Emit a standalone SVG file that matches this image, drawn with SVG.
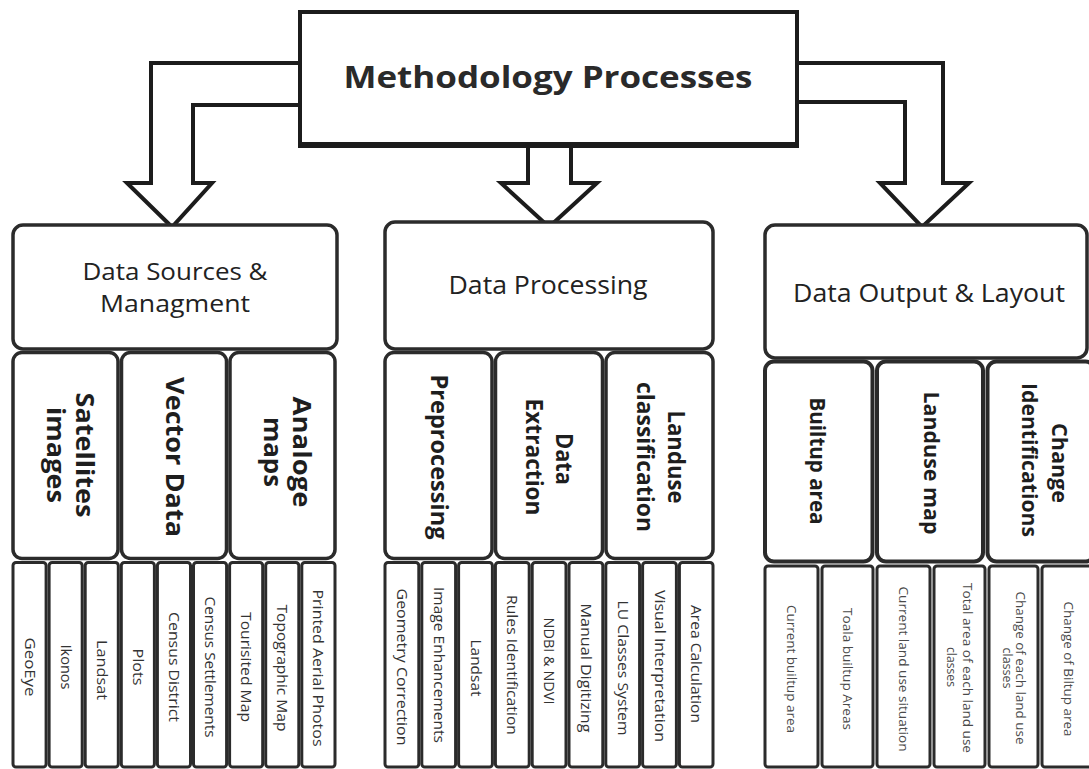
<svg xmlns="http://www.w3.org/2000/svg" width="1089" height="769" viewBox="0 0 1089 769">
  <style>
    .bg{fill:#ffffff}
    .top{fill:#ffffff;stroke:#1c1c1c;stroke-width:4}
    .arrow{fill:#ffffff;stroke:#1c1c1c;stroke-width:4;stroke-linejoin:miter}
    .box{fill:#ffffff;stroke:#2b2b2b;stroke-width:3.5}
    .sub{fill:#ffffff;stroke:#2b2b2b;stroke-width:3.5}
    .sub3{fill:#ffffff;stroke:#2b2b2b;stroke-width:4}
    .leaf{fill:#ffffff;stroke:#2b2b2b;stroke-width:3}
    text{font-family:"Open Sans","Noto Sans","Liberation Sans",sans-serif;text-anchor:middle}
    .title{font-weight:700;font-size:30px;fill:#2a2a2a}
    .head{font-size:26px;fill:#222222}
    .head2{font-size:23px;fill:#222222}
    .cat1{font-weight:700;font-size:25px;fill:#1e1e1e}
    .cat2{font-weight:700;font-size:23.5px;fill:#1e1e1e}
    .cat3{font-weight:700;font-size:21px;fill:#1e1e1e}
    .item{font-size:14px;fill:#333333}
    .item3{font-size:12.5px;fill:#4a4a4a}
  </style>

  <rect class="bg" x="0" y="0" width="1089" height="769"/>

  <!-- block arrows from the top process box to the three stages -->
  <g id="connectors">
    <path class="arrow" d="M300 63 H151 V183 H127 L172 227 L212 183 H193 V105 H300"/>
    <path class="arrow" d="M528 143 V183 H501 L549 227 L597 183 H571 V143"/>
    <path class="arrow" d="M797 63 H943 V183 H969 L922 227 L880 183 H905 V102 H797"/>
  </g>

  <!-- top process box -->
  <g id="methodology">
    <rect class="top" x="300" y="12" width="497" height="133"/>
    <line x1="298" y1="145" x2="799" y2="145" stroke="#1c1c1c" stroke-width="6"/>
    <text class="title" x="548" y="88" textLength="409" lengthAdjust="spacingAndGlyphs">Methodology Processes</text>
  </g>

  <!-- ===== Stage 1: data sources ===== -->
  <g id="data-sources">
    <rect class="box" x="13" y="225" width="324" height="124" rx="10"/>
    <text class="head2" x="175" y="280" textLength="185" lengthAdjust="spacingAndGlyphs">Data Sources &amp;</text>
    <text class="head2" x="175" y="312" textLength="150" lengthAdjust="spacingAndGlyphs">Managment</text>
  </g>
  <g id="satellites-images">
    <rect class="sub" x="13" y="352.5" width="105" height="206" rx="9"/>
    <text class="cat1" transform="translate(65.5 455) rotate(90)" y="-10" textLength="125" lengthAdjust="spacingAndGlyphs">Satellites</text>
    <text class="cat1" transform="translate(65.5 455) rotate(90)" y="19" textLength="96" lengthAdjust="spacingAndGlyphs">images</text>
  </g>
  <g id="vector-data">
    <rect class="sub" x="121.5" y="352.5" width="105" height="206" rx="9"/>
    <text class="cat1" transform="translate(174 457) rotate(90)" y="8" textLength="160" lengthAdjust="spacingAndGlyphs">Vector Data</text>
  </g>
  <g id="analoge-maps">
    <rect class="sub" x="230" y="352.5" width="105" height="206" rx="9"/>
    <text class="cat1" transform="translate(282.5 452) rotate(90)" y="-10" textLength="111" lengthAdjust="spacingAndGlyphs">Analoge</text>
    <text class="cat1" transform="translate(282.5 452) rotate(90)" y="19" textLength="70" lengthAdjust="spacingAndGlyphs">maps</text>
  </g>

  <g id="geoeye"><rect class="leaf" x="13" y="562.5" width="33.1" height="204.5" rx="3"/>
    <text class="item" transform="translate(29.6 667) rotate(90)" y="5" textLength="59" lengthAdjust="spacingAndGlyphs">GeoEye</text></g>
  <g id="ikonos"><rect class="leaf" x="49.1" y="562.5" width="33.1" height="204.5" rx="3"/>
    <text class="item" transform="translate(65.7 667) rotate(90)" y="5" textLength="45" lengthAdjust="spacingAndGlyphs">Ikonos</text></g>
  <g id="landsat-1"><rect class="leaf" x="85.2" y="562.5" width="33.1" height="204.5" rx="3"/>
    <text class="item" transform="translate(101.8 670) rotate(90)" y="5" textLength="60" lengthAdjust="spacingAndGlyphs">Landsat</text></g>
  <g id="plots"><rect class="leaf" x="121.3" y="562.5" width="33.1" height="204.5" rx="3"/>
    <text class="item" transform="translate(137.9 667) rotate(90)" y="5" textLength="37" lengthAdjust="spacingAndGlyphs">Plots</text></g>
  <g id="census-district"><rect class="leaf" x="157.4" y="562.5" width="33.1" height="204.5" rx="3"/>
    <text class="item" transform="translate(174 667) rotate(90)" y="5" textLength="110" lengthAdjust="spacingAndGlyphs">Census District</text></g>
  <g id="census-settlements"><rect class="leaf" x="193.5" y="562.5" width="33.1" height="204.5" rx="3"/>
    <text class="item" transform="translate(210.1 667) rotate(90)" y="5" textLength="141" lengthAdjust="spacingAndGlyphs">Census Settlements</text></g>
  <g id="tourist-map"><rect class="leaf" x="229.6" y="562.5" width="33.1" height="204.5" rx="3"/>
    <text class="item" transform="translate(246.2 667) rotate(90)" y="5" textLength="110" lengthAdjust="spacingAndGlyphs">Tourisited Map</text></g>
  <g id="topographic-map"><rect class="leaf" x="265.7" y="562.5" width="33.1" height="204.5" rx="3"/>
    <text class="item" transform="translate(282.3 668) rotate(90)" y="5" textLength="127" lengthAdjust="spacingAndGlyphs">Topographic Map</text></g>
  <g id="aerial-photos"><rect class="leaf" x="301.8" y="562.5" width="33.2" height="204.5" rx="3"/>
    <text class="item" transform="translate(318.4 668) rotate(90)" y="5" textLength="157" lengthAdjust="spacingAndGlyphs">Printed Aerial Photos</text></g>

  <!-- ===== Stage 2: data processing ===== -->
  <g id="data-processing">
    <rect class="box" x="385" y="222" width="328" height="127" rx="10"/>
    <text class="head" x="548" y="294" textLength="199" lengthAdjust="spacingAndGlyphs">Data Processing</text>
  </g>
  <g id="preprocessing">
    <rect class="sub" x="385" y="352.5" width="107" height="206" rx="9"/>
    <text class="cat2" transform="translate(438.5 457) rotate(90)" y="8" textLength="165" lengthAdjust="spacingAndGlyphs">Preprocessing</text>
  </g>
  <g id="data-extraction">
    <rect class="sub" x="495.5" y="352.5" width="107" height="206" rx="9"/>
    <text class="cat2" transform="translate(549 459) rotate(90)" y="-7" textLength="52" lengthAdjust="spacingAndGlyphs">Data</text>
    <text class="cat2" transform="translate(549 457) rotate(90)" y="23" textLength="117" lengthAdjust="spacingAndGlyphs">Extraction</text>
  </g>
  <g id="landuse-classification">
    <rect class="sub" x="606" y="352.5" width="107" height="206" rx="9"/>
    <text class="cat2" transform="translate(659.5 457) rotate(90)" y="-8" textLength="93" lengthAdjust="spacingAndGlyphs">Landuse</text>
    <text class="cat2" transform="translate(659.5 457) rotate(90)" y="23" textLength="150" lengthAdjust="spacingAndGlyphs">classification</text>
  </g>

  <g id="geometry-correction"><rect class="leaf" x="385" y="562.5" width="33.8" height="204.5" rx="3"/>
    <text class="item" transform="translate(401.9 667) rotate(90)" y="5" textLength="157" lengthAdjust="spacingAndGlyphs">Geometry Correction</text></g>
  <g id="image-enhancements"><rect class="leaf" x="421.8" y="562.5" width="33.8" height="204.5" rx="3"/>
    <text class="item" transform="translate(438.7 665) rotate(90)" y="5" textLength="156" lengthAdjust="spacingAndGlyphs">Image Enhancements</text></g>
  <g id="landsat-2"><rect class="leaf" x="458.6" y="562.5" width="33.8" height="204.5" rx="3"/>
    <text class="item" transform="translate(475.5 668) rotate(90)" y="5" textLength="57" lengthAdjust="spacingAndGlyphs">Landsat</text></g>
  <g id="rules-identification"><rect class="leaf" x="495.4" y="562.5" width="33.8" height="204.5" rx="3"/>
    <text class="item" transform="translate(512.3 665) rotate(90)" y="5" textLength="140" lengthAdjust="spacingAndGlyphs">Rules Identification</text></g>
  <g id="ndbi-ndvi"><rect class="leaf" x="532.2" y="562.5" width="33.8" height="204.5" rx="3"/>
    <text class="item" transform="translate(549.1 661) rotate(90)" y="5" textLength="87" lengthAdjust="spacingAndGlyphs">NDBI &amp; NDVI</text></g>
  <g id="manual-digitizing"><rect class="leaf" x="569" y="562.5" width="33.8" height="204.5" rx="3"/>
    <text class="item" transform="translate(585.9 668) rotate(90)" y="5" textLength="129" lengthAdjust="spacingAndGlyphs">Manual Digitizing</text></g>
  <g id="lu-classes"><rect class="leaf" x="605.8" y="562.5" width="33.8" height="204.5" rx="3"/>
    <text class="item" transform="translate(622.7 668) rotate(90)" y="5" textLength="135" lengthAdjust="spacingAndGlyphs">LU Classes System</text></g>
  <g id="visual-interpretation"><rect class="leaf" x="642.6" y="562.5" width="33.8" height="204.5" rx="3"/>
    <text class="item" transform="translate(659.5 666) rotate(90)" y="5" textLength="152" lengthAdjust="spacingAndGlyphs">Visual Interpretation</text></g>
  <g id="area-calculation"><rect class="leaf" x="679.4" y="562.5" width="33.6" height="204.5" rx="3"/>
    <text class="item" transform="translate(696.3 664) rotate(90)" y="5" textLength="118" lengthAdjust="spacingAndGlyphs">Area Calculation</text></g>

  <!-- ===== Stage 3: data output ===== -->
  <g id="data-output">
    <rect class="box" x="765" y="225" width="322" height="133" rx="10"/>
    <text class="head" x="929" y="302" textLength="272" lengthAdjust="spacingAndGlyphs">Data Output &amp; Layout</text>
  </g>
  <g id="builtup-area">
    <rect class="sub3" x="765" y="361.5" width="107.5" height="200" rx="9"/>
    <text class="cat3" transform="translate(818.5 461) rotate(90)" y="9" textLength="127" lengthAdjust="spacingAndGlyphs">Builtup area</text>
  </g>
  <g id="landuse-map">
    <rect class="sub3" x="877" y="361.5" width="106" height="200" rx="9"/>
    <text class="cat3" transform="translate(930 463) rotate(90)" y="6" textLength="143" lengthAdjust="spacingAndGlyphs">Landuse map</text>
  </g>
  <g id="change-identifications">
    <rect class="sub3" x="987.5" y="361.5" width="107" height="200" rx="9"/>
    <text class="cat3" transform="translate(1040.5 463) rotate(90)" y="-11" textLength="80" lengthAdjust="spacingAndGlyphs">Change</text>
    <text class="cat3" transform="translate(1040.5 460) rotate(90)" y="19" textLength="154" lengthAdjust="spacingAndGlyphs">Identifications</text>
  </g>

  <g id="current-builtup"><rect class="leaf" x="765" y="566" width="53" height="201" rx="3"/>
    <text class="item3" transform="translate(791.5 669) rotate(90)" y="4.5" textLength="128" lengthAdjust="spacingAndGlyphs">Current builtup area</text></g>
  <g id="total-builtup"><rect class="leaf" x="822" y="566" width="51" height="201" rx="3"/>
    <text class="item3" transform="translate(847.5 669) rotate(90)" y="4.5" textLength="122" lengthAdjust="spacingAndGlyphs">Toala builtup Areas</text></g>
  <g id="current-land-use"><rect class="leaf" x="877" y="566" width="53" height="201" rx="3"/>
    <text class="item3" transform="translate(903.5 669) rotate(90)" y="4.5" textLength="165" lengthAdjust="spacingAndGlyphs">Current land use situation</text></g>
  <g id="total-land-use"><rect class="leaf" x="934" y="566" width="51" height="201" rx="3"/>
    <text class="item3" transform="translate(959.5 668) rotate(90)" y="-3" textLength="170" lengthAdjust="spacingAndGlyphs">Total area of each land use</text>
    <text class="item3" transform="translate(959.5 667) rotate(90)" y="13" textLength="40" lengthAdjust="spacingAndGlyphs">classes</text></g>
  <g id="change-land-use"><rect class="leaf" x="989" y="566" width="49" height="201" rx="3"/>
    <text class="item3" transform="translate(1013.5 668) rotate(90)" y="-2" textLength="153" lengthAdjust="spacingAndGlyphs">Change of each land use</text>
    <text class="item3" transform="translate(1013.5 668) rotate(90)" y="11" textLength="41" lengthAdjust="spacingAndGlyphs">classes</text></g>
  <g id="change-builtup"><rect class="leaf" x="1042" y="566" width="54" height="201" rx="3"/>
    <text class="item3" transform="translate(1068 669) rotate(90)" y="4.5" textLength="135" lengthAdjust="spacingAndGlyphs">Change of Biltup area</text></g>
</svg>
